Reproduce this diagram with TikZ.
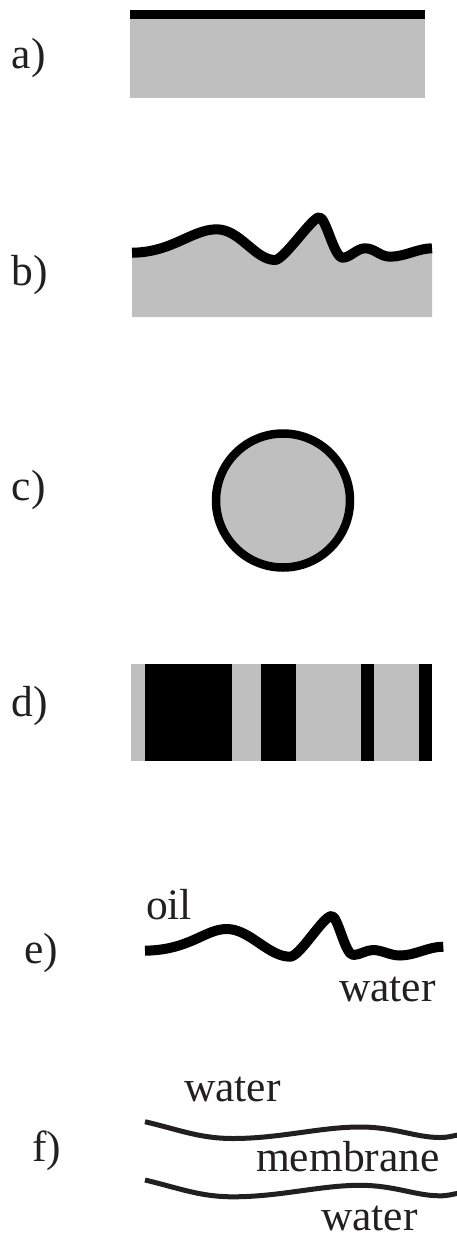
\documentclass[tikz,border=0pt]{standalone}
\usepackage{fontspec}
\setmainfont{Liberation Serif}
\definecolor{fillgray}{HTML}{BFBFBF}
\definecolor{inkdark}{HTML}{231F20}
\begin{document}
\begin{tikzpicture}[x=1pt,y=-1pt,
  lbl/.style={anchor=base west,inner sep=0pt,outer sep=0pt,font=\fontsize{43.5}{50}\selectfont,text=inkdark},
  thick line/.style={line width=10pt,line cap=butt,line join=round},
  thin wave/.style={line width=5pt,line cap=butt,line join=round,inkdark}]
\useasboundingbox (0,0) rectangle (456,1242);
% a)
\node[lbl] (la) at (12,68) {a)};
\fill[fillgray] (130,19) rectangle (425,98);
\fill[black] (130,10) rectangle (425,19);
% b)
\node[lbl] (lb) at (12,285) {b)};
\def\bcurve{(132,252.7) .. controls (172,252.5) and (192,229.3) .. (216.7,229.3)
  .. controls (240,229.3) and (255,260) .. (275,260)
  .. controls (284,260) and (312,217.3) .. (319.3,217.3)
  .. controls (326,217.3) and (334,257.7) .. (342.7,257.7)
  .. controls (350,257.7) and (357,248.3) .. (365,248.3)
  .. controls (375,248.3) and (380,256.7) .. (390,256.7)
  .. controls (405,256.7) and (418,248.3) .. (432,248.3)}
\fill[fillgray] \bcurve -- (432,317) -- (132,317) -- cycle;
\draw[thick line] \bcurve;
% c)
\node[lbl] (lc) at (12,500) {c)};
\draw[fill=fillgray,line width=8.5pt] (283,500.5) circle[radius=67];
% d)
\node[lbl] (ld) at (12,716.7) {d)};
\fill[fillgray] (131,664) rectangle (431.7,760.7);
\fill[black] (145,664) rectangle (231.7,760.7);
\fill[black] (261,664) rectangle (296,760.7);
\fill[black] (361,664) rectangle (374,760.7);
\fill[black] (419,664) rectangle (431.7,760.7);
% e)
\node[lbl] (le) at (24,963) {e)};
\node[lbl] (oil) at (146,919) {oil};
\node[lbl] (wat1) at (339,1001) {water};
\draw[thick line] (145,950.7) .. controls (190,950) and (205,929) .. (226.7,929)
  .. controls (250,929) and (268,956.7) .. (290,956.7)
  .. controls (300,956.7) and (323,916) .. (331.7,916)
  .. controls (338,916) and (345,955) .. (353.3,955)
  .. controls (360,955) and (366,950) .. (373,950)
  .. controls (382,950) and (390,955.5) .. (400,955.5)
  .. controls (415,955.5) and (428,946.7) .. (443.3,946.7);
% f)
\node[lbl] (lf) at (32,1161.7) {f)};
\node[lbl] (wat2) at (184,1101.7) {water};
\node[lbl] (mem) at (256,1171.7) {membrane};
\node[lbl] (wat3) at (321,1230) {water};
\foreach \dy in {0,58.3}{
\draw[thin wave,yshift=-\dy pt] (145,1121.7) .. controls (180,1130) and (200,1138.5) .. (233,1138.5)
  .. controls (280,1138.5) and (320,1127) .. (360,1127)
  .. controls (395,1127) and (415,1137.5) .. (440,1137.5)
  .. controls (448,1137.5) and (452,1136) .. (458,1135);
}
\end{tikzpicture}
\end{document}
